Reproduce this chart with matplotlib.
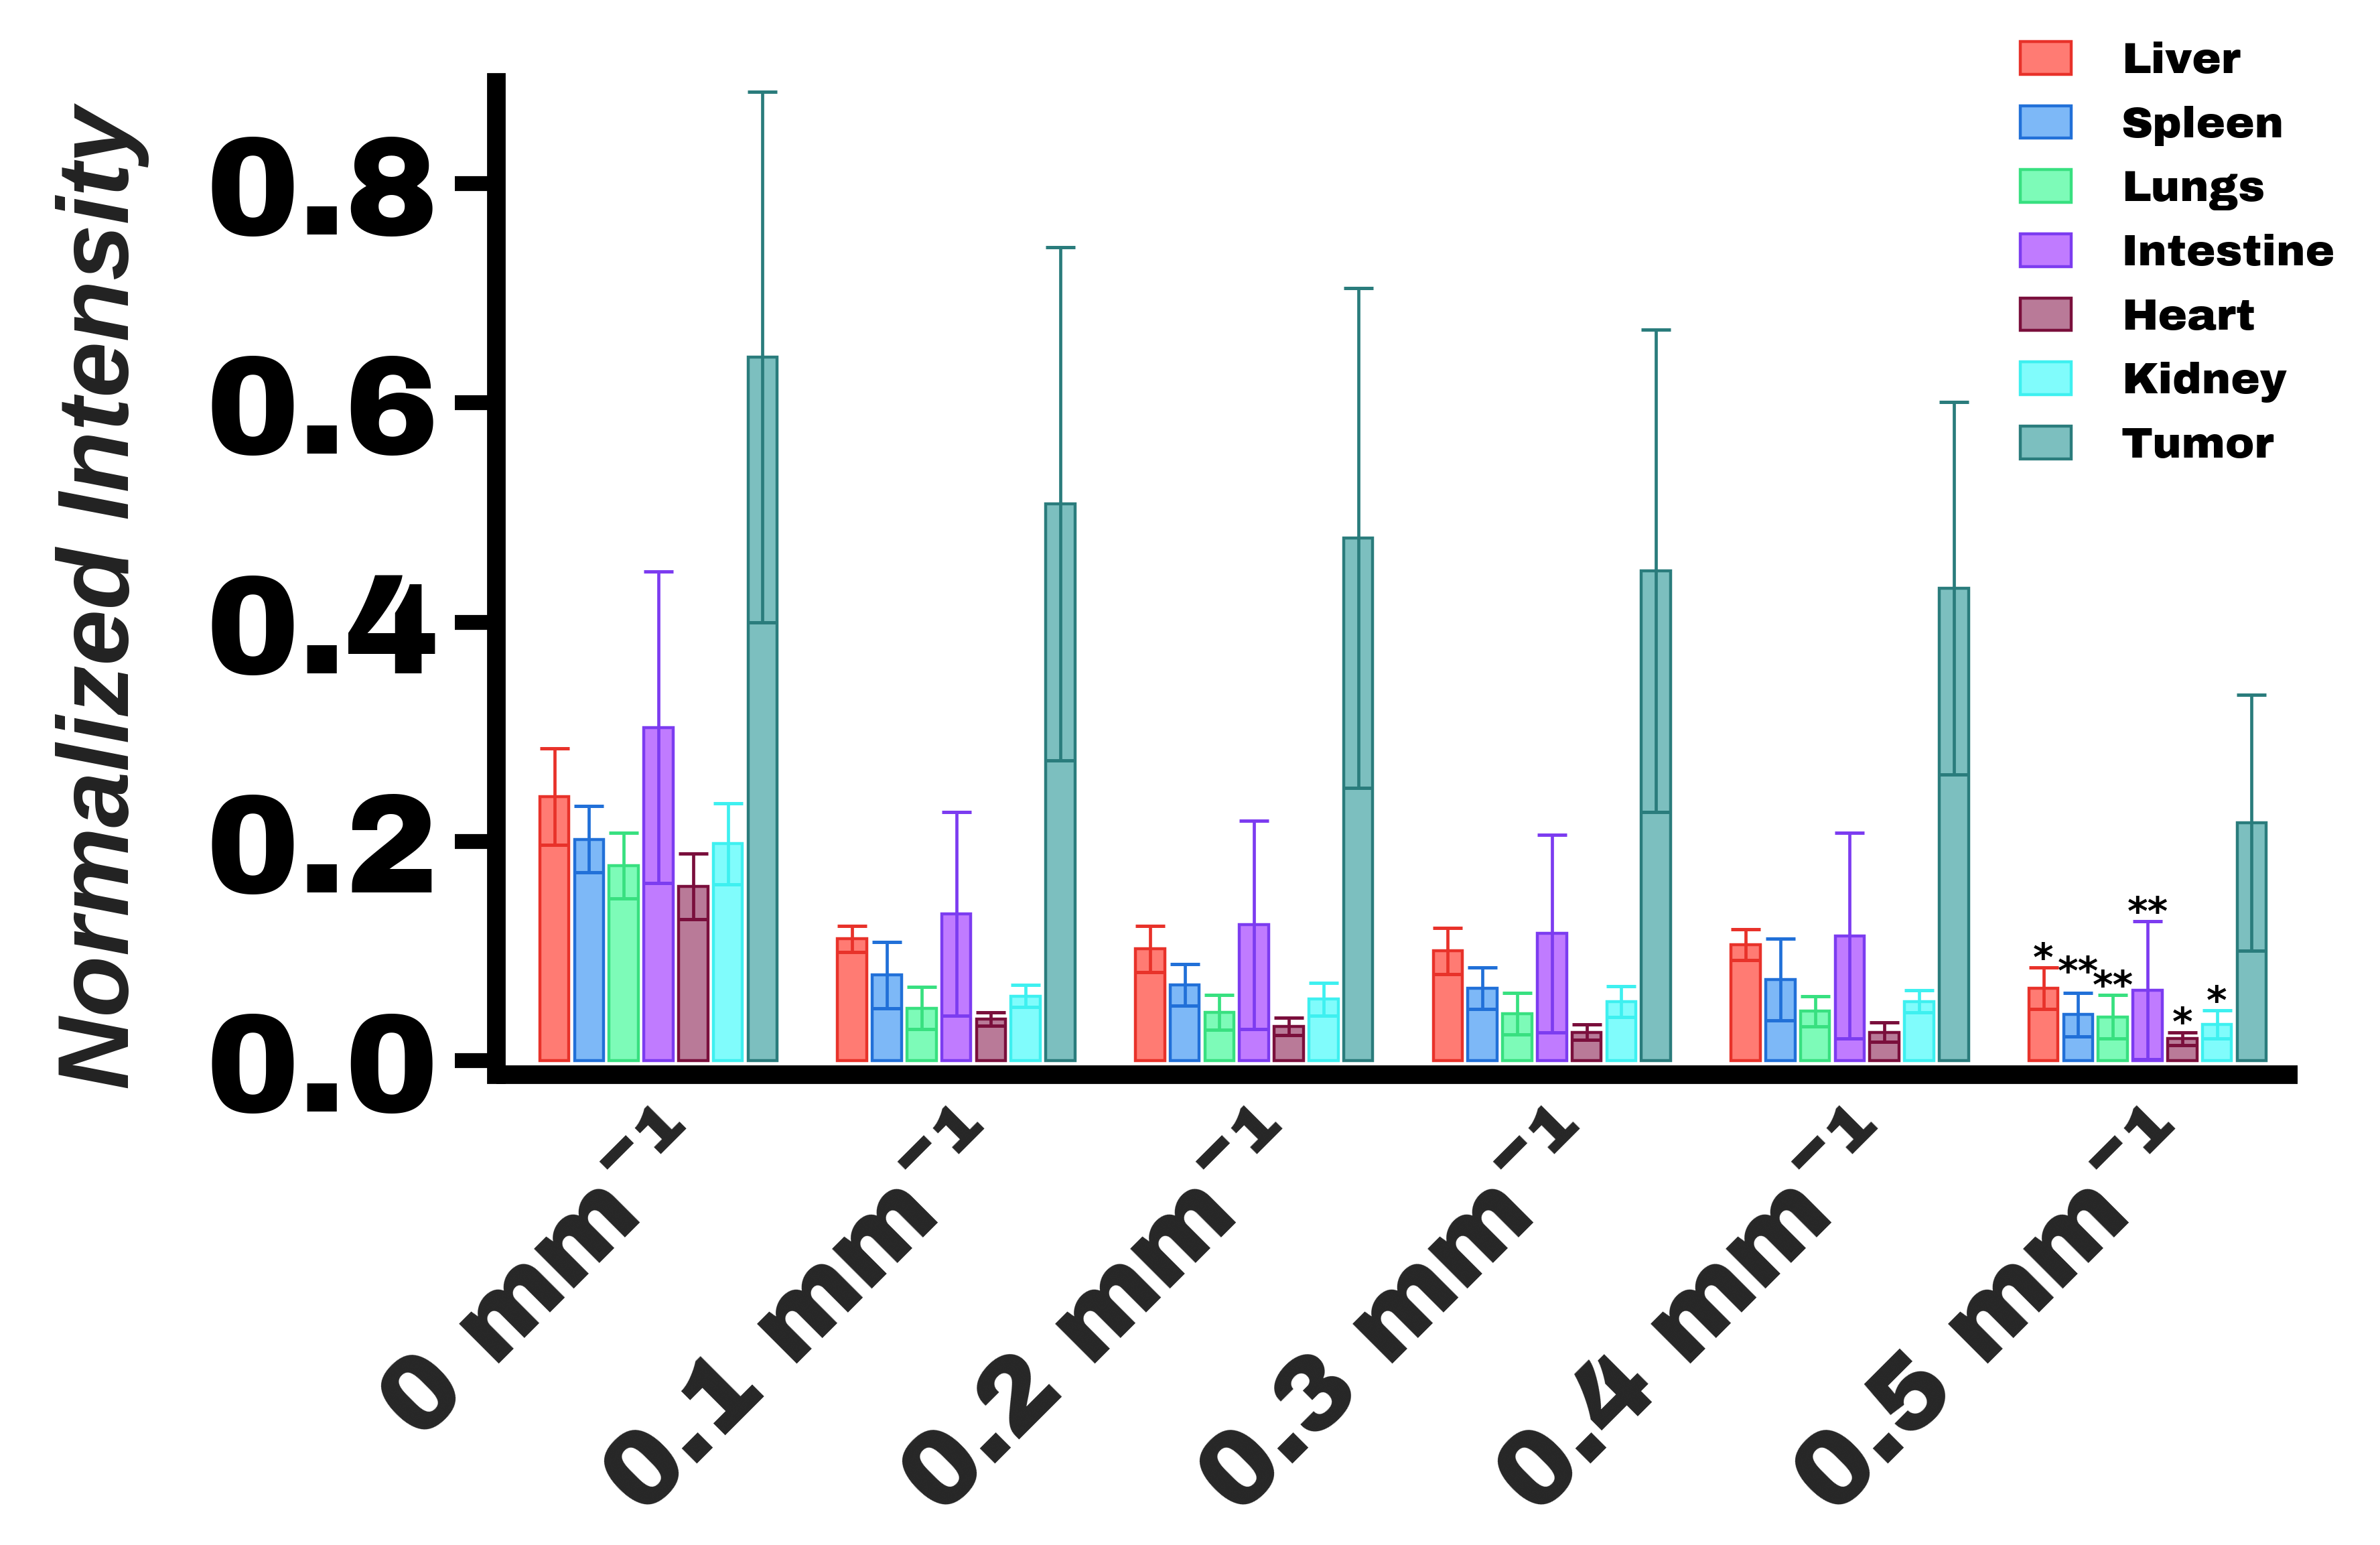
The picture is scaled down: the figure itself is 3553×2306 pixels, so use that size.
import matplotlib
matplotlib.use('Agg')
import numpy as np
import matplotlib.pyplot as plt

# mean and SD per organ, one value per attenuation group
groups = ['0', '0.1', '0.2', '0.3', '0.4', '0.5']
organs = ['Liver', 'Spleen', 'Lungs', 'Intestine', 'Heart', 'Kidney', 'Tumor']

liver = [0.241, 0.111, 0.102, 0.100, 0.106, 0.066]
liver_err = [0.044, 0.012, 0.021, 0.021, 0.014, 0.019]
spleen = [0.202, 0.078, 0.069, 0.066, 0.074, 0.042]
spleen_err = [0.030, 0.030, 0.019, 0.019, 0.037, 0.020]
lungs = [0.178, 0.048, 0.044, 0.043, 0.045, 0.040]
lungs_err = [0.030, 0.019, 0.016, 0.019, 0.014, 0.020]
intestine = [0.304, 0.134, 0.124, 0.116, 0.114, 0.064]
intestine_err = [0.142, 0.093, 0.095, 0.090, 0.094, 0.063]
heart = [0.159, 0.038, 0.031, 0.026, 0.026, 0.020]
heart_err = [0.030, 0.006, 0.008, 0.007, 0.009, 0.006]
kidney = [0.198, 0.059, 0.056, 0.054, 0.054, 0.033]
kidney_err = [0.037, 0.010, 0.015, 0.014, 0.010, 0.013]
tumor = [0.642, 0.508, 0.477, 0.447, 0.431, 0.217]
tumor_err = [0.242, 0.234, 0.228, 0.220, 0.170, 0.117]

# significance marks on the last group (0.5 mm^-1)
stars_last = ['*', '**', '**', '**', '*', '*', '']

means = [liver, spleen, lungs, intestine, heart, kidney, tumor]
errs = [liver_err, spleen_err, lungs_err, intestine_err, heart_err, kidney_err, tumor_err]

fills = ['#FF7B73', '#7DB8F7', '#7DFBB8', '#C07BFF', '#B97A98', '#80FCFC', '#7CBFBF']
edges = ['#E8322A', '#2170D8', '#38E080', '#7C3CF0', '#7A0F3C', '#3EF0F0', '#2A7C7C']

HEAVY = ['Archivo Black', 'Inter', 'DejaVu Sans']

fig = plt.figure(figsize=(35.53, 23.06), dpi=100)
ax = fig.add_axes([0.2086, 0.3044, 0.9654 - 0.2086, 0.9467 - 0.3044])

x = np.arange(len(groups))
pitch = 0.1165
width = 0.098

for i, organ in enumerate(organs):
    pos = x + (i - 3) * pitch
    ax.bar(pos, means[i], width=width, color=fills[i], edgecolor=edges[i],
           linewidth=3.2, label=organ, zorder=2)
    ax.errorbar(pos, means[i], yerr=errs[i], fmt='none', ecolor=edges[i],
                elinewidth=3.4, capsize=15.5, capthick=3.6, zorder=3)
    if stars_last[i]:
        lift = 0.011 if organ == 'Spleen' else 0.0
        ax.text(pos[-1], means[i][-1] + errs[i][-1] - 0.003 + lift, stars_last[i],
                ha='center', va='baseline', fontsize=42, fontweight='bold',
                family='DejaVu Sans', color='black', zorder=4)

ax.set_xlim(-0.544, 5.504)
ax.set_ylim(-0.0128, 0.8924)
ax.set_yticks([0.0, 0.2, 0.4, 0.6, 0.8])
ax.set_yticklabels(['0.0', '0.2', '0.4', '0.6', '0.8'], family=HEAVY,
                   fontweight='black', fontsize=150, color='black')
ax.set_xticks(x)
ax.set_xticklabels([g + ' mm\u207b\u00b9' for g in groups], family=HEAVY,
                   fontweight='black', fontsize=114, color='#262626',
                   rotation=45, ha='right', rotation_mode='anchor', va='top')

ax.spines['top'].set_visible(False)
ax.spines['right'].set_visible(False)
ax.spines['left'].set_linewidth(20)
ax.spines['left'].set_capstyle('projecting')
ax.spines['bottom'].set_linewidth(20)
ax.spines['bottom'].set_capstyle('butt')
ax.tick_params(axis='y', direction='out', length=45, width=16, pad=17)
ax.tick_params(axis='x', length=0, pad=22)

fig.text(0.043, 0.613, 'Normalized Intensity', rotation=90, ha='center', va='center',
         family=['Liberation Sans', 'Arimo', 'DejaVu Sans'],
         fontweight='bold', style='italic', fontsize=108, color='#222222')

fig.legend(loc='upper left', bbox_to_anchor=(0.849, 0.973), frameon=False,
           prop={'family': HEAVY, 'weight': 'black', 'size': 47},
           handlelength=1.15, handleheight=0.77, handletextpad=1.15,
           labelspacing=0.54, borderpad=0, borderaxespad=0)

fig.savefig('out.png')
